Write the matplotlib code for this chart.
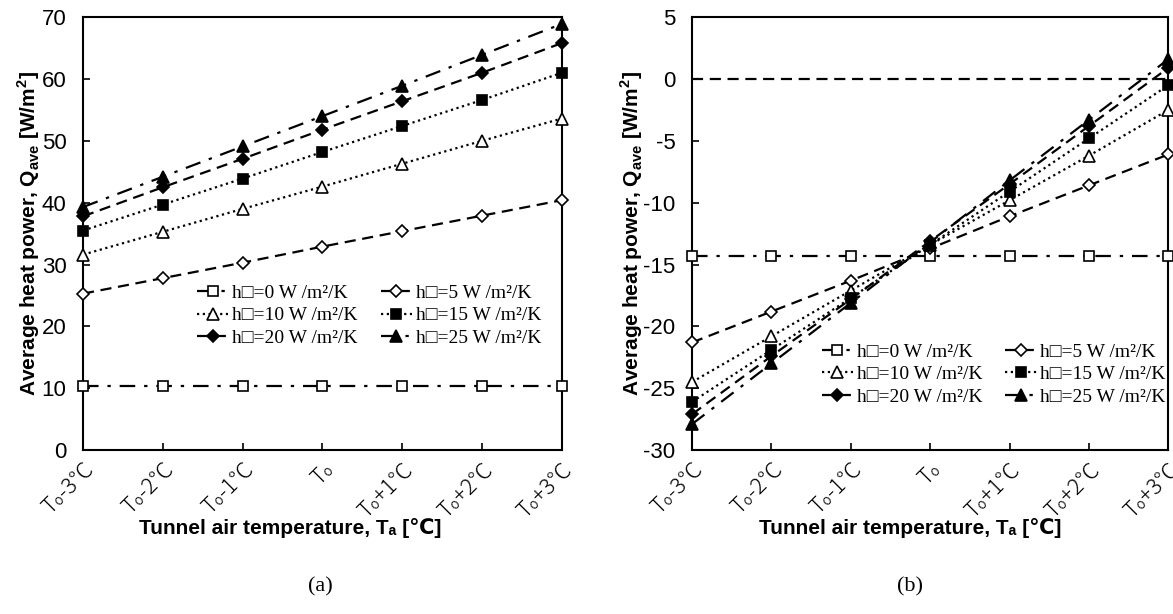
import matplotlib
matplotlib.use("Agg")
import matplotlib.pyplot as plt

plt.rcParams['font.family'] = ['Liberation Sans', 'DejaVu Sans']
plt.rcParams['mathtext.fontset'] = 'custom'
plt.rcParams['mathtext.rm'] = 'Liberation Sans'
plt.rcParams['mathtext.bf'] = 'Liberation Sans:bold'
plt.rcParams['axes.unicode_minus'] = False

x_labels = ["T\u2080-3\u2103", "T\u2080-2\u2103", "T\u2080-1\u2103", "T\u2080",
            "T\u2080+1\u2103", "T\u2080+2\u2103", "T\u2080+3\u2103"]
series_names = ["h\u25a1=0 W /m\u00b2/K", "h\u25a1=5 W /m\u00b2/K", "h\u25a1=10 W /m\u00b2/K",
                "h\u25a1=15 W /m\u00b2/K", "h\u25a1=20 W /m\u00b2/K", "h\u25a1=25 W /m\u00b2/K"]

# panel (a)
a_h0 = [10.3, 10.3, 10.3, 10.3, 10.3, 10.3, 10.3]
a_h5 = [25.3, 27.8, 30.3, 32.9, 35.4, 37.9, 40.4]
a_h10 = [31.6, 35.3, 39.0, 42.6, 46.3, 50.0, 53.6]
a_h15 = [35.5, 39.7, 43.9, 48.2, 52.4, 56.6, 61.0]
a_h20 = [37.8, 42.5, 47.1, 51.8, 56.4, 61.0, 65.8]
a_h25 = [39.3, 44.2, 49.1, 54.0, 58.9, 63.9, 68.9]

# panel (b)
b_h0 = [-14.3, -14.3, -14.3, -14.3, -14.3, -14.3, -14.3]
b_h5 = [-21.3, -18.8, -16.3, -13.7, -11.1, -8.6, -6.1]
b_h10 = [-24.5, -20.8, -17.1, -13.4, -9.8, -6.2, -2.5]
b_h15 = [-26.1, -21.9, -17.7, -13.4, -9.1, -4.8, -0.5]
b_h20 = [-27.1, -22.4, -17.8, -13.1, -8.5, -3.8, 0.9]
b_h25 = [-27.9, -23.0, -18.1, -13.2, -8.2, -3.3, 1.6]
b_zero = [0, 0, 0, 0, 0, 0, 0]

styles = [
    dict(ls=(0, (7, 4, 1.5, 4)), marker='s', mfc='white', ms=7),
    dict(ls=(0, (5, 3)), marker='D', mfc='white', ms=6.5),
    dict(ls=(0, (1, 1.6)), marker='^', mfc='white', ms=8),
    dict(ls=(0, (1, 1.6)), marker='s', mfc='black', ms=7),
    dict(ls=(0, (5, 3)), marker='D', mfc='black', ms=6.5),
    dict(ls=(0, (7, 4, 1.5, 4)), marker='^', mfc='black', ms=8),
]

fig = plt.figure(figsize=(11.73, 6.14), dpi=100)
ax1 = fig.add_axes([0.0708, 0.267, 0.408, 0.705])
ax2 = fig.add_axes([0.590, 0.267, 0.406, 0.705])

xs = list(range(len(x_labels)))
leg_font = dict(family=['Liberation Serif', 'DejaVu Serif'], size=14)

def draw(ax, data, ylim, yticks, legend_anchor, ylab_x, xlab_x):
    handles = []
    for vals, st, name in zip(data, styles, series_names):
        ln, = ax.plot(xs, vals, color='black', lw=1.6, ls=st['ls'], marker=st['marker'],
                      mfc=st['mfc'], mec='black', ms=st['ms'], mew=1.2, label=name,
                      clip_on=False, zorder=3)
        handles.append(ln)
    ax.set_xlim(0, 6)
    ax.set_ylim(*ylim)
    ax.set_yticks(yticks)
    ax.set_xticks(xs)
    ax.set_xticklabels(x_labels, rotation=45, ha='right', rotation_mode='anchor',
                       family=['Noto Sans CJK JP', 'DejaVu Sans'], fontsize=13.5,
                       fontweight='light')
    ax.tick_params(axis='both', direction='in', length=5, width=1.2, labelsize=16)
    ax.tick_params(axis='x', pad=6)
    ax.tick_params(axis='y', pad=12)
    for sp in ax.spines.values():
        sp.set_linewidth(1.5)
    ax.set_xlabel("Tunnel air temperature, T\u2090 [\u2103]", fontsize=15,
                  fontweight='bold', family=['Liberation Sans', 'DejaVu Sans'])
    ax.xaxis.set_label_coords(xlab_x, -0.157)
    ax.set_ylabel("Average heat power, Q$_\\mathbf{ave}$ [W/m$^\\mathbf{2}$]", fontsize=15,
                  fontweight='bold')
    ax.yaxis.set_label_coords(ylab_x, 0.5)
    order = [0, 2, 4, 1, 3, 5]
    ax.legend([handles[i] for i in order], [series_names[i] for i in order], ncol=2,
              loc='upper left', bbox_to_anchor=legend_anchor, frameon=False,
              prop=leg_font, handlelength=1.6, handletextpad=0.2, columnspacing=1.2,
              labelspacing=0.25, borderaxespad=0, borderpad=0)

draw(ax1, [a_h0, a_h5, a_h10, a_h15, a_h20, a_h25], (0, 70), range(0, 71, 10),
     (0.238, 0.383), -0.086, 0.432)
draw(ax2, [b_h0, b_h5, b_h10, b_h15, b_h20, b_h25], (-30, 5), range(-30, 6, 5),
     (0.272, 0.247), -0.099, 0.457)
ax2.plot(xs, b_zero, color='black', lw=1.6, ls=(0, (5, 3)), zorder=2)

fig.text(0.273, 0.045, "(a)", ha='center', va='center', fontsize=16,
         family=['Liberation Serif', 'DejaVu Serif'])
fig.text(0.776, 0.045, "(b)", ha='center', va='center', fontsize=16,
         family=['Liberation Serif', 'DejaVu Serif'])

fig.savefig("out.png", dpi=100)
